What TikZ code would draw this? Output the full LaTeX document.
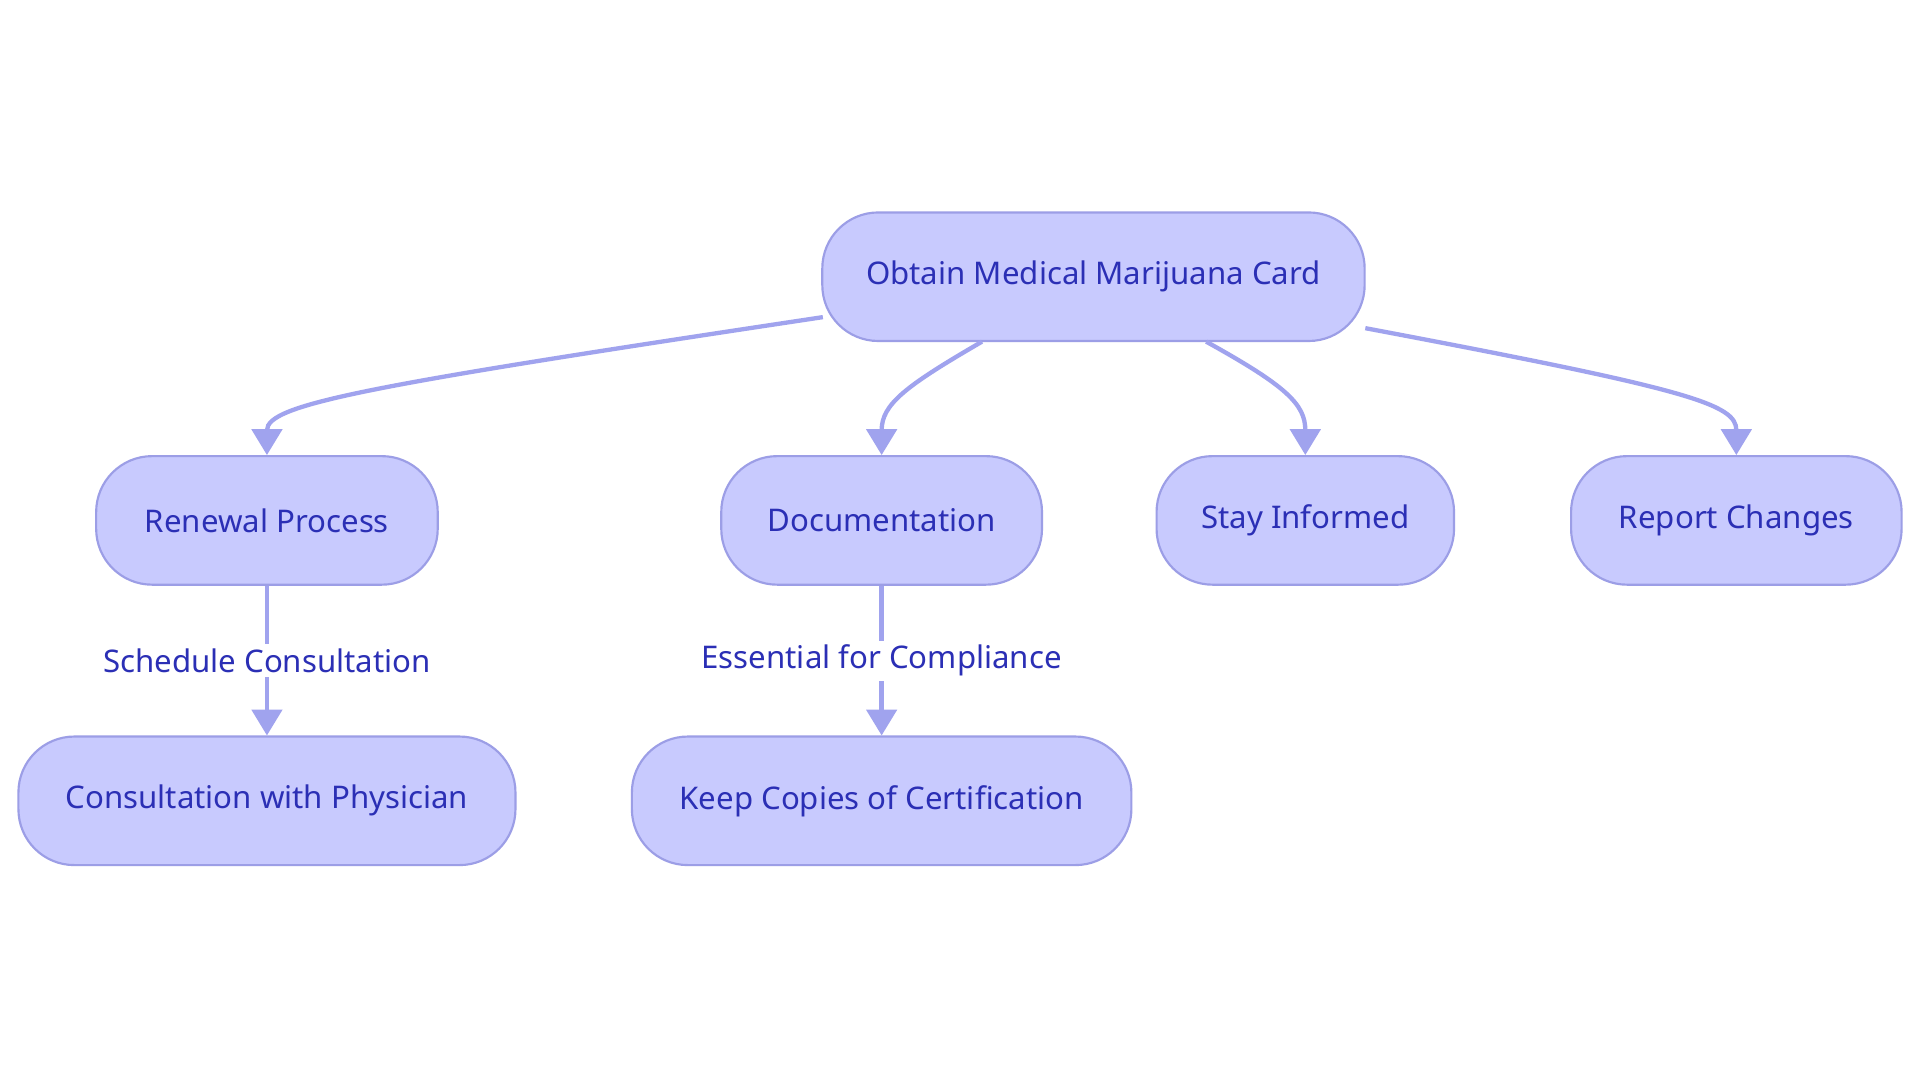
\documentclass[tikz,border=0pt]{standalone}
\usepackage{fontspec}
\setmainfont{Noto Sans}
\usetikzlibrary{arrows.meta}
\definecolor{nfill}{HTML}{C8CAFE}
\definecolor{ndraw}{HTML}{9C9EE6}
\definecolor{ntext}{HTML}{2B2FB5}
\definecolor{ecol}{HTML}{A0A3EE}
\tikzset{
 box/.style={rounded corners=26pt,fill=nfill,draw=ndraw,line width=1pt,minimum height=2.1cm,text=ntext,font=\fontsize{14.5}{16}\selectfont,inner sep=0pt},
 edge/.style={draw=ecol,line width=2pt,-{Triangle[length=12pt,width=14pt]}},
 lab/.style={fill=white,text=ntext,font=\fontsize{14.5}{16}\selectfont,inner sep=2pt}
}
\begin{document}
\begin{tikzpicture}[x=0.02cm,y=-0.02cm]
\useasboundingbox[fill=white] (0,0) rectangle (1568,884);
\node[box,minimum width=8.86cm] (top) at (893,226) {Obtain Medical Marijuana Card};
\node[box,minimum width=5.58cm] (ren) at (218,425) {Renewal Process};
\node[box,minimum width=5.24cm] (doc) at (720,425) {Documentation};
\node[box,minimum width=4.86cm] (stay) at (1066,425) {Stay Informed};
\node[box,minimum width=5.40cm] (rep) at (1418,425) {Report Changes};
\node[box,minimum width=8.12cm] (con) at (218,654) {Consultation with Physician};
\node[box,minimum width=8.16cm] (keep) at (720,654) {Keep Copies of Certification};
\coordinate (t1) at (672,259);
\coordinate (t2) at (802,279);
\coordinate (t3) at (985,279);
\coordinate (t4) at (1115,268);
\draw[edge] (t1) .. controls (300,315) and (218,330) .. (ren.north);
\draw[edge] (t2) .. controls (740,315) and (720,330) .. (doc.north);
\draw[edge] (t3) .. controls (1050,315) and (1066,330) .. (stay.north);
\draw[edge] (t4) .. controls (1380,318) and (1418,330) .. (rep.north);
\draw[edge] (ren.south) -- node[lab] {Schedule Consultation} (con.north);
\draw[edge] (doc.south) -- node[lab] {Essential for Compliance} (keep.north);
\end{tikzpicture}
\end{document}
